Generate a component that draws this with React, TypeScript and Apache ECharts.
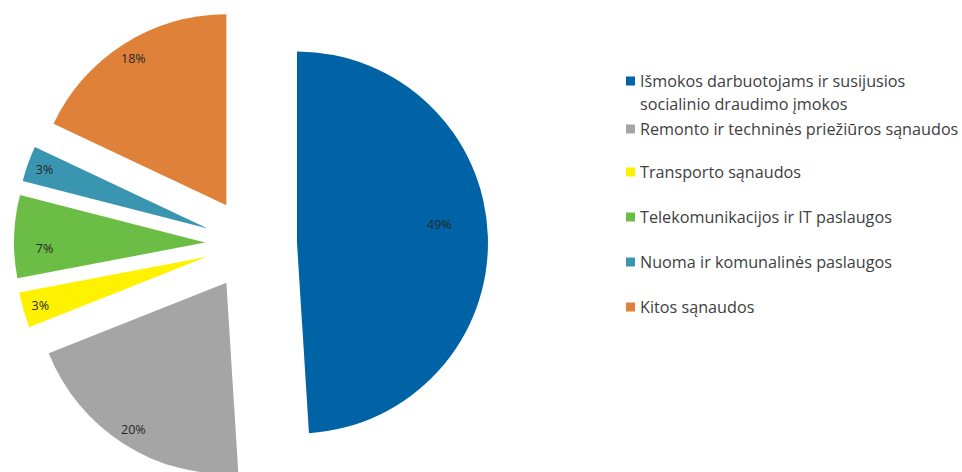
import { useEffect, useRef } from "react";
import * as echarts from "echarts";

const categories = [
  "Išmokos darbuotojams ir susijusios socialinio draudimo įmokos",
  "Remonto ir techninės priežiūros sąnaudos",
  "Transporto sąnaudos",
  "Telekomunikacijos ir IT paslaugos",
  "Nuoma ir komunalinės paslaugos",
  "Kitos sąnaudos",
];
const shares = [49, 20, 3, 7, 3, 18];
const colors = ["#0063a6", "#a5a5a5", "#fff200", "#6cbd45", "#3a96b0", "#df8139"];
const firstLegendLines = ["Išmokos darbuotojams ir susijusios", "socialinio draudimo įmokos"];

// layout (legend item centres)
const legendCentres = [81, 129, 172, 217, 262, 307];

export default function App() {
  const ref = useRef<HTMLDivElement>(null);
  useEffect(() => {
    document.body.style.margin = "0";
    if (!ref.current) return;
    const chart = echarts.init(ref.current, null, { renderer: "svg" });
    const LH = 23;
    const font = "Open Sans";
    const center = [251, 244];
    const R = 191;
    const offset = 46;

    const pieData = categories.map((name, i) => ({
      name,
      value: shares[i],
      selected: true,
      itemStyle: { color: colors[i] },
    }));

    // small label nudges to follow the original's label placement
    const labelTweaks: Record<number, any> = {
      0: { padding: [0, 62, 0, 0], lineHeight: 13, formatter: (p: any) => p.value + "%\n \n " },
      3: { padding: [0, 0, 0, 26], lineHeight: 22, formatter: (p: any) => " \n" + p.value + "%" },
    };

    const labelData = categories.map((name, i) => ({
      name,
      value: shares[i],
      selected: true,
      itemStyle: { color: "rgba(0,0,0,0)" },
      label: labelTweaks[i] || {},
    }));

    const legends = categories.map((name, i) => ({
      data: [name],
      orient: "vertical",
      left: 626,
      top: i === 0 ? legendCentres[i] - LH * 1.5 : legendCentres[i] - LH / 2,
      padding: 0,
      itemWidth: 9,
      itemHeight: 9,
      icon: "rect",
      selectedMode: false,
      formatter: i === 0 ? () => " \n" + firstLegendLines.join("\n") : undefined,
      textStyle: {
        fontFamily: font,
        fontSize: 16.2,
        color: "#404040",
        lineHeight: LH,
      },
    }));

    chart.setOption({
      animation: false,
      legend: legends,
      series: [
        {
          type: "pie",
          center,
          radius: [0, R],
          startAngle: 90,
          clockwise: true,
          selectedMode: "multiple",
          selectedOffset: offset,
          silent: true,
          label: { show: false },
          labelLine: { show: false },
          emphasis: { disabled: true },
          data: pieData,
        },
        {
          type: "pie",
          center,
          radius: [150, R],
          startAngle: 90,
          clockwise: true,
          selectedMode: "multiple",
          selectedOffset: offset,
          silent: true,
          legendHoverLink: false,
          label: {
            show: true,
            position: "inside",
            formatter: (p: any) => p.value + "%",
            fontFamily: font,
            fontSize: 12.5,
            color: "#262626",
          },
          labelLine: { show: false },
          emphasis: { disabled: true },
          data: labelData,
        },
      ],
    });
    return () => chart.dispose();
  }, []);
  return <div ref={ref} style={{ width: 962, height: 472 }} />;
}
